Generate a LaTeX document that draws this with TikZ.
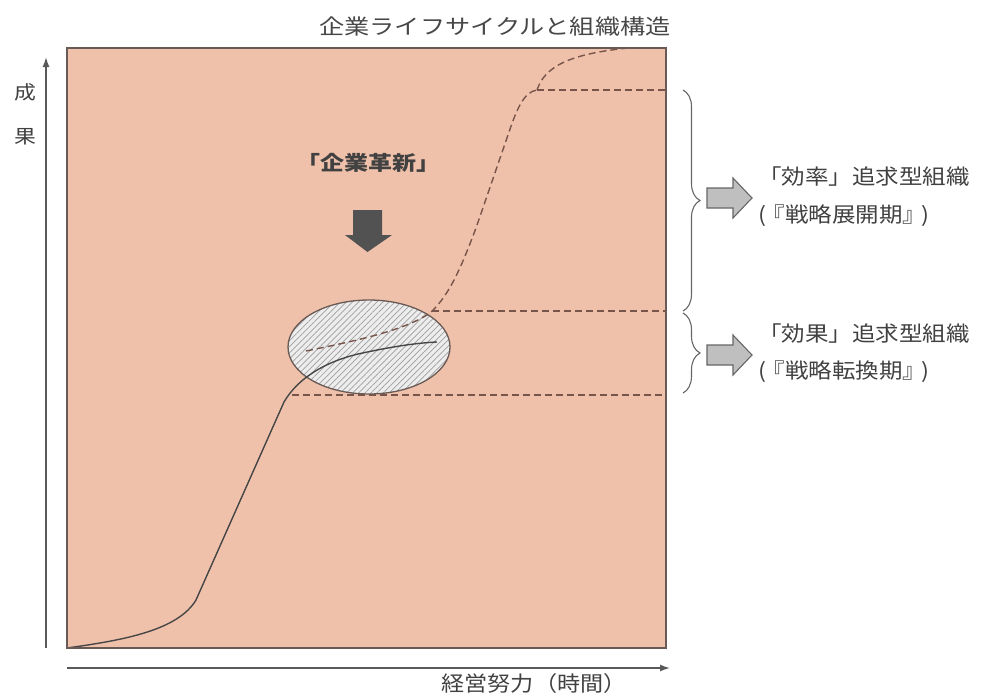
\documentclass[tikz,border=0pt]{standalone}
\usepackage{fontspec}
\newfontfamily\jp{Noto Sans CJK JP}
\usetikzlibrary{patterns.meta,decorations.pathreplacing,arrows.meta}
\definecolor{bgsalmon}{RGB}{240,193,170}
\definecolor{frame}{RGB}{105,90,85}
\definecolor{txt}{RGB}{65,65,65}
\definecolor{dashc}{RGB}{120,85,75}
\begin{document}
\begin{tikzpicture}[x=1pt,y=-1pt,
  every node/.style={inner sep=0pt,font=\jp,text=txt},
  solidc/.style={draw=black!72,line width=1.4pt},
  dashc/.style={draw=dashc,line width=1.4pt,dash pattern=on 7pt off 4pt},
  axis/.style={draw=black!65,line width=1.4pt,-{Latex[length=10pt,width=7pt]}},
  bracec/.style={draw=black!60,line width=1.1pt,decorate,decoration={brace,amplitude=17pt}},
  blockarrow/.style={fill=black!25,draw=black!60,line width=1.1pt},
  sidelabel/.style={anchor=west,xscale=1.12,font=\jp\fontsize{21}{22}\selectfont}]
\useasboundingbox (0,0) rectangle (989,697);
% panel
\fill[bgsalmon] (67,48) rectangle (666,648);
% ellipse
\path[fill=white!93!black] (369,347) ellipse [x radius=81, y radius=47];
\path[pattern={Lines[angle=45,distance=4.3pt,line width=0.7pt]},pattern color=black!38] (369,347) ellipse [x radius=81, y radius=47];
\draw[frame,line width=1.3pt] (369,347) ellipse [x radius=81, y radius=47];
% horizontal dashed
\coordinate (h1a) at (537,90);  \coordinate (h1b) at (666,90);
\coordinate (h2a) at (432,311); \coordinate (h2b) at (666,311);
\coordinate (h3a) at (292,395); \coordinate (h3b) at (666,395);
\draw[dashc] (h1a) -- (h1b);
\draw[dashc] (h2a) -- (h2b);
\draw[dashc] (h3a) -- (h3b);
% solid curve
\coordinate (s0) at (67,648);
\draw[solidc] (s0) .. controls (125,640) and (178,630) .. (196,600)
  -- (284,402) .. controls (298,378) and (325,362) .. (358,354)
  .. controls (390,347) and (415,343) .. (437,342);
% dashed curve
\draw[dashc] (306,351) .. controls (360,340) and (405,330) .. (430,313)
  .. controls (450,295) and (462,265) .. (476,228)
  -- (508,135) .. controls (517,108) and (524,92) .. (h1a);
\draw[dashc] (h1a) .. controls (545,66) and (570,54) .. (628,48);
% frame
\draw[frame,line width=1.5pt] (67,48) rectangle (666,648);
% axes
\coordinate (yo) at (46,648); \coordinate (yt) at (46,57);
\coordinate (xo) at (67,668); \coordinate (xt) at (670,668);
\draw[axis] (yo) -- (yt);
\draw[axis] (xo) -- (xt);
% labels
\node[xscale=1.2] (title) at (495,27) {\fontsize{21}{23}\selectfont\color{black!72} 企業ライフサイクルと組織構造};
\node[xscale=1.15] (y1) at (25,92) {\fontsize{19}{20}\selectfont 成};
\node[xscale=1.15] (y2) at (25,137) {\fontsize{19}{20}\selectfont 果};
\node[xscale=1.1] (xl) at (534,684) {\fontsize{21}{23}\selectfont 経営努力（時間）};
\node[xscale=1.2] (inno) at (368,163) {\fontsize{20}{22}\selectfont\bfseries 「企業革新」};
% down arrow
\fill[black!68] (353,210) -- (382,210) -- (382,235) -- (392,235) -- (367.5,252) -- (345,235) -- (353,235) -- cycle;
% braces
\draw[bracec] (683,90) -- (683,311);
\draw[bracec] (683,313) -- (683,393);
% block arrows
\draw[blockarrow] (707,188) -- (733,188) -- (733,178) -- (752,198) -- (733,218) -- (733,208) -- (707,208) -- cycle;
\draw[blockarrow] (707,345) -- (733,345) -- (733,335) -- (752,355) -- (733,375) -- (733,365) -- (707,365) -- cycle;
\node[sidelabel] (l1) at (758,177) {「効率」追求型組織};
\node[sidelabel] (l2) at (758,216) {(\kern-4pt『戦略展開期』\kern-4pt)};
\node[sidelabel] (l3) at (758,334) {「効果」追求型組織};
\node[sidelabel] (l4) at (758,372) {(\kern-4pt『戦略転換期』\kern-4pt)};
\end{tikzpicture}
\end{document}
